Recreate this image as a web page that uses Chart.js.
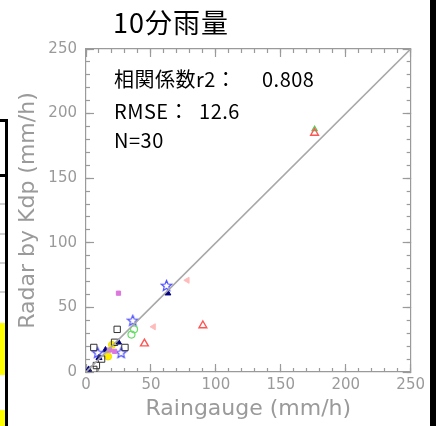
<!DOCTYPE html>
<html>
<head>
<meta charset="utf-8">
<script src="https://cdn.jsdelivr.net/npm/chart.js@4/dist/chart.umd.min.js"></script>
<style>
  html, body { margin: 0; padding: 0; background: #fff; }
  #wrap { position: relative; width: 437px; height: 426px; overflow: hidden; }
  #wrap canvas { position: absolute; left: 0; top: 0; }
  .txt { position: absolute; font-family: "Noto Sans CJK JP", "Noto Sans", sans-serif; color: #000; white-space: pre; line-height: 1; }
  .blk { position: absolute; }
</style>
</head>
<body>
<div id="wrap">
  <canvas id="grafica" width="437" height="426"></canvas>
  <div class="txt" style="left:113px; top:8px; font-size:27px; letter-spacing:1px;">10分雨量</div>
  <div class="txt" style="left:114px; top:69px; font-size:20px; letter-spacing:0.5px;">相関係数r2：</div>
  <div class="txt" style="left:262px; top:69px; font-size:20px; letter-spacing:0.5px;">0.808</div>
  <div class="txt" style="left:114px; top:101px; font-size:20px; letter-spacing:0.5px;">RMSE：  12.6</div>
  <div class="txt" style="left:114px; top:130px; font-size:20px; letter-spacing:0.5px;">N=30</div>
  <div class="blk" style="left:0; top:119px; width:8px; height:3px; background:#000;"></div>
  <div class="blk" style="left:5px; top:119px; width:3px; height:307px; background:#000;"></div>
  <div class="blk" style="left:0; top:174px; width:5px; height:3px; background:#000;"></div>
  <div class="blk" style="left:0; top:203px; width:5px; height:2px; background:#d0d0d0;"></div>
  <div class="blk" style="left:0; top:233px; width:5px; height:2px; background:#d0d0d0;"></div>
  <div class="blk" style="left:0; top:262px; width:5px; height:2px; background:#d0d0d0;"></div>
  <div class="blk" style="left:0; top:291px; width:5px; height:2px; background:#d0d0d0;"></div>
  <div class="blk" style="left:0; top:323px; width:5px; height:52px; background:#ffff00;"></div>
  <div class="blk" style="left:0; top:410px; width:5px; height:16px; background:#ffff00;"></div>
  <div class="blk" style="left:430px; top:0; width:6px; height:426px; background:#000;"></div>
</div>
<script>
// valores (pluviometro, radar) en mm/h
const navyTriangles = [[2, 2], [10, 11], [15, 17], [25, 23], [63, 61]];
const blueStars = [[9, 15], [27, 15], [36, 40], [62, 67]];
const blackSquares = [[6, 2], [8, 5], [12, 10], [6, 19], [22, 23], [30, 19], [24, 33]];
const greenCircles = [[35, 29], [37, 33]];
const yellowDots = [[17, 12], [20, 21]];
const magentaSquares = [[18, 17], [22, 16], [25, 61]];
const redTriangles = [[45, 22], [90, 36], [176, 185]];
const greenTriangles = [[176, 188]];
const pinkArrows = [[52, 35], [78, 71]];
const oneToOne = [0, 250];
const axisMin = 0;
const axisMax = 250;
const majorStep = 50;
const minorStep = 10;

const toPoints = (arr) => arr.map(([x, y]) => ({ x: x, y: y }));

function makeStar(color, size) {
  const c = document.createElement("canvas");
  c.width = size;
  c.height = size;
  const g = c.getContext("2d");
  const cx = size / 2, cy = size / 2 + 0.5;
  const ro = size / 2 - 1, ri = ro * 0.45;
  g.beginPath();
  for (let i = 0; i < 10; i++) {
    const r = i % 2 === 0 ? ro : ri;
    const a = -Math.PI / 2 + (i * Math.PI) / 5;
    const px = cx + r * Math.cos(a), py = cy + r * Math.sin(a);
    if (i === 0) g.moveTo(px, py); else g.lineTo(px, py);
  }
  g.closePath();
  g.strokeStyle = color;
  g.lineWidth = 1.2;
  g.stroke();
  return c;
}

const axisGray = "#9a9a9a";
const tickFont = { family: "DejaVu Sans", size: 15 };
const titleFont = { family: "DejaVu Sans", size: 22 };

// eje extra sin etiquetas, solo para las marcas hacia dentro y el marco
function ejeMarcas(position, step, len, showBorder, weight) {
  const horizontal = position === "top" || position === "bottom";
  return {
    type: "linear",
    position: position,
    min: axisMin,
    max: axisMax,
    weight: weight,
    ticks: { display: false, stepSize: step, autoSkip: false },
    grid: { drawOnChartArea: false, drawTicks: true, tickLength: -len, tickColor: axisGray, tickWidth: 1.2 },
    border: { display: showBorder, color: axisGray, width: 1.2 },
    afterFit(scale) {
      if (horizontal) scale.height = 0; else scale.width = 0;
    },
  };
}

new Chart(document.getElementById("grafica"), {
  type: "scatter",
  data: {
    datasets: [
      { type: "line", data: toPoints([[oneToOne[0], oneToOne[0]], [oneToOne[1], oneToOne[1]]]), borderColor: "#a8a8a8", borderWidth: 1.6, pointRadius: 0, fill: false },
      { data: toPoints(blackSquares), pointStyle: "rect", pointRadius: 4.5, borderColor: "#333", backgroundColor: "rgba(0,0,0,0)", borderWidth: 1 },
      { data: toPoints(greenCircles), pointStyle: "circle", pointRadius: 3.5, borderColor: "#66dd66", backgroundColor: "rgba(0,0,0,0)", borderWidth: 1.2 },
      { data: toPoints(redTriangles), pointStyle: "triangle", pointRadius: 4.5, borderColor: "#ff5555", backgroundColor: "rgba(0,0,0,0)", borderWidth: 1.4 },
      { data: toPoints(greenTriangles), pointStyle: "triangle", pointRadius: 3, borderColor: "#55cc55", backgroundColor: "rgba(0,0,0,0)", borderWidth: 1.2 },
      { data: toPoints(pinkArrows), pointStyle: "triangle", rotation: -90, pointRadius: 3.5, borderColor: "#ffbbbb", backgroundColor: "#ffbbbb", borderWidth: 1 },
      { data: toPoints(magentaSquares), pointStyle: "rect", pointRadius: 3, borderColor: "#dd77dd", backgroundColor: "#dd77dd", borderWidth: 1 },
      { data: toPoints(yellowDots), pointStyle: "circle", pointRadius: 3.5, borderColor: "#eedd00", backgroundColor: "#ffee00", borderWidth: 1 },
      { data: toPoints(blueStars), pointStyle: makeStar("#4a4aff", 13) },
      { data: toPoints(navyTriangles), pointStyle: "triangle", pointRadius: 3.5, borderColor: "#000080", backgroundColor: "#000080", borderWidth: 1 },
    ],
  },
  options: {
    responsive: false,
    animation: false,
    layout: { padding: { top: 49, right: 26, left: 0, bottom: 0 } },
    plugins: { legend: { display: false }, tooltip: { enabled: false } },
    scales: {
      x: {
        type: "linear", min: axisMin, max: axisMax, weight: 1,
        ticks: { stepSize: majorStep, color: axisGray, font: tickFont, padding: 12, maxRotation: 0 },
        grid: { drawOnChartArea: false, drawTicks: true, tickLength: -8, tickColor: axisGray, tickWidth: 1.2 },
        border: { color: axisGray, width: 1.2 },
        title: { display: true, text: "Raingauge (mm/h)", color: axisGray, font: titleFont, padding: { top: 0, bottom: 4 } },
        afterFit(scale) { scale.height = 54; },
      },
      y: {
        type: "linear", min: axisMin, max: axisMax, weight: 1,
        ticks: { stepSize: majorStep, color: axisGray, font: tickFont, padding: 17 },
        grid: { drawOnChartArea: false, drawTicks: true, tickLength: -8, tickColor: axisGray, tickWidth: 1.2 },
        border: { color: axisGray, width: 1.2 },
        title: { display: true, text: "Radar by Kdp (mm/h)", color: axisGray, font: titleFont, padding: { top: 15, bottom: 0 } },
        afterFit(scale) { scale.width = 86; },
      },
      xMenor: ejeMarcas("bottom", minorStep, 4, false, 0),
      yMenor: ejeMarcas("left", minorStep, 4, false, 0),
      xArriba: ejeMarcas("top", majorStep, 8, true, 0),
      xArribaMenor: ejeMarcas("top", minorStep, 4, false, 1),
      yDerecha: ejeMarcas("right", majorStep, 8, true, 0),
      yDerechaMenor: ejeMarcas("right", minorStep, 4, false, 1),
    },
  },
});
</script>
</body>
</html>
